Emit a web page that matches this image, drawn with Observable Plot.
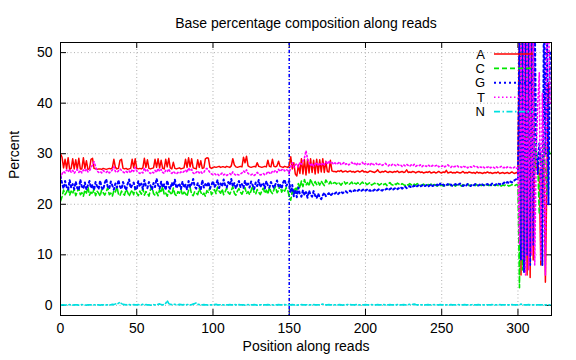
<!DOCTYPE html>
<html><head><meta charset="utf-8">
<script src="https://cdn.jsdelivr.net/npm/d3@7"></script>
<script src="https://cdn.jsdelivr.net/npm/@observablehq/plot@0.6"></script>
<style>body{margin:0;background:#fff}#chart svg{display:block}</style>
</head><body><div id="chart"></div>
<script>
const chartTitle = "Base percentage composition along reads";
const xLabel = "Position along reads";
const yLabel = "Percent";
const bases = ["A", "C", "G", "T", "N"];
const baseColors = ["#ff0000", "#00e600", "#0000ff", "#ff00ff", "#00e0e0"];
const baseDash = [null, "5,3", "2,3", "1.5,2.5", "6,2.5,1.5,2.5"];
const xTicks = [0, 50, 100, 150, 200, 250, 300];
const yTicks = [0, 10, 20, 30, 40, 50];
const markerPositions = [150];

const valuesA = [
30.0,29.3,27.2,28.9,27.0,29.2,26.9,27.1,29.0,27.0,
28.8,26.9,29.1,27.0,27.0,29.2,27.1,28.6,26.9,27.0,
28.9,29.1,27.1,27.0,26.9,27.0,27.0,26.9,27.1,27.0,
26.9,27.0,27.1,27.0,27.2,28.9,27.3,27.0,27.1,28.7,
28.9,27.1,27.0,27.1,26.9,27.0,27.1,28.9,27.2,29.0,
27.1,27.0,27.1,27.0,27.2,29.1,27.3,28.8,27.1,27.0,
27.1,27.2,28.9,27.3,29.0,27.2,28.7,27.1,27.0,28.9,
27.4,29.1,27.2,27.0,28.3,27.1,27.0,27.1,27.2,27.0,
27.1,27.2,28.9,27.3,29.2,27.4,29.0,27.2,27.1,27.0,
28.8,27.3,28.6,27.1,27.2,29.0,29.2,29.1,27.3,27.1,
27.3,27.4,27.3,27.4,27.5,27.3,27.4,27.4,27.3,27.5,
27.4,27.3,27.6,29.0,27.8,27.4,27.3,27.4,27.5,27.4,
29.3,28.2,29.5,27.6,27.4,27.3,27.4,27.5,27.4,28.2,
27.5,27.4,27.3,27.4,27.5,27.4,28.7,27.5,27.4,28.9,
27.5,27.4,27.6,28.5,27.5,27.4,27.3,27.5,27.4,27.3,
27.6,29.4,27.0,28.2,26.0,25.6,27.8,26.1,29.0,26.0,
28.8,25.8,28.9,26.2,29.0,26.3,28.7,26.0,28.9,26.2,
28.8,26.4,29.0,26.3,28.5,26.5,26.4,28.7,26.6,26.5,
26.5,26.4,26.6,26.5,26.7,26.4,26.5,26.6,26.4,26.5,
26.6,26.4,26.5,26.3,26.5,26.6,26.4,26.5,26.7,26.4,
26.5,26.3,26.4,26.6,26.5,26.4,26.3,26.5,26.8,26.4,
26.3,26.5,26.4,26.6,26.4,26.3,26.5,26.4,26.3,26.5,
26.4,26.6,26.3,26.4,26.5,26.3,26.4,26.8,26.3,26.4,
26.3,26.5,26.4,26.2,26.4,26.5,26.3,26.4,26.2,26.3,
26.4,26.3,26.5,26.2,26.3,26.4,26.2,26.3,26.5,26.3,
26.2,26.4,26.3,26.7,26.2,26.3,26.4,26.2,26.3,26.2,
26.4,26.3,26.2,26.3,26.5,26.2,26.3,26.2,26.4,26.3,
26.2,26.3,26.1,26.4,26.2,26.3,26.2,26.1,26.3,26.2,
26.4,26.2,26.3,26.1,26.2,26.3,26.2,26.4,26.1,26.2,
26.3,26.1,26.2,26.3,26.1,26.2,26.4,26.2,26.1,26.3,
26.2,58,6,57,8,56,6,55,5.5,58,
9,30,27,28,26,8,27,28,4.6,26,
44,44];

const valuesC = [
20.6,21.5,22.8,21.9,22.4,23.3,21.8,22.6,22.1,23.0,
21.7,22.5,23.2,21.9,22.3,21.6,22.8,22.2,23.4,21.8,
22.4,22.0,23.1,21.7,22.6,22.2,21.6,22.9,22.3,21.8,
22.5,23.3,21.9,22.2,21.6,22.7,22.4,23.5,22.0,21.7,
22.6,22.1,21.8,23.0,22.4,21.6,22.3,22.8,21.9,23.4,
22.2,21.7,22.6,22.0,23.1,21.8,22.5,22.2,21.6,22.9,
23.5,22.1,21.8,22.4,21.7,22.9,22.3,23.6,21.9,22.2,
21.6,22.7,22.3,21.9,23.2,22.0,21.7,22.5,22.2,23.0,
21.8,22.4,22.1,21.6,22.8,23.3,22.0,21.7,22.5,22.2,
21.9,23.1,22.4,21.8,22.2,21.6,22.7,22.3,23.4,21.9,
22.4,22.9,22.1,23.4,22.6,22.2,23.0,21.9,22.5,23.2,
22.3,22.0,22.7,23.5,22.2,21.8,22.6,23.1,22.4,22.0,
22.8,23.3,22.1,22.5,21.9,22.7,23.6,22.3,22.0,22.9,
22.4,21.9,22.6,23.2,22.2,22.8,22.0,23.4,22.5,22.1,
22.9,23.5,22.3,22.7,23.8,22.4,23.0,22.6,23.3,22.8,
21.5,20.8,22.6,21.9,23.4,22.8,24.1,23.2,24.6,23.5,
24.9,23.8,24.3,23.6,25.0,24.2,23.7,24.5,23.9,24.4,
23.8,24.6,24.1,23.7,24.8,24.3,24.0,24.5,23.9,24.2,
24.3,24.0,24.4,24.1,23.8,24.2,24.5,24.0,24.3,23.9,
24.1,24.4,23.9,24.2,24.0,24.3,23.8,24.1,24.4,24.0,
24.2,23.9,24.1,24.3,23.8,24.0,24.2,23.9,24.1,23.8,
24.0,24.2,23.9,24.1,23.7,24.0,24.3,23.9,23.8,24.1,
23.9,24.2,24.0,23.8,24.1,23.9,23.7,24.0,23.8,24.1,
23.9,23.7,24.0,23.8,24.1,23.9,23.7,23.8,24.0,23.8,
23.7,23.9,23.8,24.0,23.7,23.9,23.8,23.6,23.9,23.7,
23.8,23.6,23.9,23.7,23.8,24.0,23.7,23.9,23.8,23.6,
23.9,23.7,23.8,23.6,23.9,23.7,23.8,24.0,23.7,23.8,
23.6,23.8,23.7,23.9,23.6,23.8,23.7,23.9,23.8,23.6,
23.8,23.7,23.9,23.6,23.8,23.7,23.9,23.7,23.8,23.6,
23.8,23.7,23.9,23.8,23.6,23.7,23.9,23.8,23.7,23.9,
23.8,3.5,56,7,58,9,55,11,57,13,
52,26,31,28,18,30,25,32,26,22,
31,30];

const valuesG = [
25.6,24.2,23.1,24.6,23.4,22.9,24.8,23.3,24.0,23.0,
24.5,23.2,22.8,24.9,23.5,23.1,24.3,22.9,23.8,24.6,
23.2,23.9,22.8,24.4,23.6,23.0,24.7,23.3,22.9,24.2,
25.0,23.4,23.1,24.5,23.7,22.9,24.1,23.3,24.8,23.5,
23.0,24.4,23.6,22.8,24.0,24.9,23.2,23.8,24.3,23.1,
22.9,24.6,23.5,24.1,23.0,24.8,23.6,23.2,24.4,23.7,
22.9,24.2,23.4,25.1,23.8,23.1,24.5,23.3,24.0,22.8,
24.7,23.5,23.0,24.3,23.6,24.9,23.2,23.7,24.1,23.0,
24.5,23.3,23.9,22.9,24.6,23.4,24.0,25.0,23.5,23.1,
24.2,23.6,22.9,24.8,23.3,24.0,23.5,24.4,23.1,23.8,
24.6,23.4,23.9,24.8,23.2,24.1,23.5,24.9,23.7,23.3,
24.4,23.8,25.0,23.5,24.2,23.1,23.9,24.6,23.4,24.0,
23.2,24.7,23.6,24.1,23.3,24.5,23.8,23.0,24.3,23.6,
24.8,23.4,23.9,24.2,23.1,24.6,23.7,23.3,24.4,23.8,
23.2,24.0,24.7,23.5,23.9,23.1,24.3,24.9,23.6,24.1,
24.6,22.3,23.8,21.6,22.9,21.4,23.3,22.0,21.5,22.8,
21.8,22.4,21.3,22.7,21.9,21.5,22.6,21.7,21.2,22.1,
21.4,21.0,21.8,22.3,21.6,21.9,22.2,21.7,22.0,22.3,
22.1,22.4,22.0,22.3,22.5,22.2,22.4,22.6,22.3,22.5,
22.7,22.4,22.6,22.8,22.5,22.7,22.9,22.6,22.8,23.0,
22.7,22.9,22.6,22.8,22.5,22.7,22.9,22.6,22.8,23.0,
22.8,22.7,23.0,22.9,23.1,22.8,23.0,23.2,22.9,23.1,
23.3,23.0,23.2,23.4,23.1,23.3,23.5,23.2,23.4,23.6,
23.3,23.5,23.7,23.4,23.6,23.8,23.5,23.7,23.9,23.6,
23.8,23.5,23.7,24.0,23.6,23.8,23.7,23.9,23.6,24.1,
23.7,23.9,23.6,23.8,24.0,23.7,23.9,23.6,23.8,24.0,
23.7,23.9,24.1,23.8,23.6,23.9,23.7,24.0,23.8,23.6,
23.9,23.7,24.0,23.8,23.7,23.9,24.1,23.8,23.7,23.9,
24.0,23.8,23.7,24.1,23.9,23.8,24.0,24.2,23.9,24.1,
24.0,24.3,24.1,24.4,24.2,24.5,24.3,24.6,24.8,25.0,
24.8,55,9,58,6.5,57,10,56,8,56,
12,58,30,26,32,28,8,58,30,58,
20,50];

const valuesT = [
25.2,26.0,26.5,26.2,26.8,26.4,26.9,26.3,26.7,26.1,
26.6,26.9,26.3,26.7,26.2,26.8,26.5,27.0,26.4,26.6,
27.2,27.8,28.4,27.5,26.6,26.3,26.5,26.2,26.7,26.4,
26.3,26.6,26.2,26.5,26.8,27.4,26.5,26.3,26.6,27.0,
26.7,26.4,26.2,26.5,26.3,26.6,26.2,26.9,26.5,27.3,
26.6,26.3,26.1,26.4,26.2,27.2,26.5,26.8,26.3,26.1,
26.4,26.2,26.7,26.3,27.1,26.5,26.9,26.3,26.1,26.7,
26.4,27.0,26.3,26.1,26.5,26.2,26.0,26.3,26.1,26.4,
26.2,26.5,26.8,26.3,27.2,26.6,26.9,26.2,26.0,26.3,
26.6,26.2,26.5,26.1,26.3,26.9,27.1,26.7,26.3,26.0,
25.9,26.1,25.8,26.0,25.7,25.9,26.2,25.8,26.0,25.7,
25.9,26.1,25.8,26.4,26.0,25.7,25.9,25.8,26.0,26.2,
26.6,26.3,26.8,26.1,25.9,25.8,26.0,25.7,25.9,26.3,
26.0,25.8,25.9,26.1,25.8,26.0,26.5,26.2,26.0,26.6,
26.4,26.7,26.3,26.9,26.5,26.8,27.0,26.6,26.9,26.7,
26.0,27.5,28.2,27.3,27.8,28.0,27.4,28.3,27.9,28.6,
29.2,30.6,29.0,28.2,27.6,28.1,27.5,27.9,28.3,27.6,
28.0,27.7,28.2,27.8,28.4,27.9,28.6,28.1,28.3,27.9,
28.2,27.9,28.1,28.4,27.8,28.0,28.3,27.9,28.1,27.8,
28.0,28.3,27.9,28.1,27.7,28.2,27.9,28.0,28.3,27.8,
28.1,27.8,28.0,27.7,28.2,27.9,27.8,28.1,27.7,27.9,
28.0,27.7,27.9,28.1,27.8,27.6,27.9,27.7,28.0,27.8,
27.6,27.9,27.7,27.8,27.5,27.8,27.6,27.9,27.7,27.5,
27.8,27.6,27.9,27.5,27.7,27.6,27.8,27.4,27.7,27.6,
27.5,27.8,27.6,27.4,27.7,27.5,27.6,27.8,27.4,27.6,
27.5,27.7,27.4,27.6,27.8,27.5,27.3,27.6,27.4,27.5,
27.7,27.4,27.5,27.3,27.6,27.4,27.5,27.2,27.5,27.4,
27.3,27.6,27.4,27.5,27.2,27.4,27.3,27.5,27.2,27.4,
27.3,27.5,27.2,27.4,27.3,27.1,27.4,27.2,27.3,27.5,
27.2,27.3,27.1,27.4,27.2,27.3,27.1,27.2,27.4,27.1,
27.2,12,58,9,56,6,57,7,58,10,
55,8,30,40,46,9,42,30,6,58,
58,40];

const valuesN = [
0,0.1,0.1,0.05,0.1,0.1,0.15,0.1,0.05,0.1,
0.1,0.1,0.05,0.1,0.15,0.1,0.1,0.05,0.1,0.1,
0.1,0.05,0.1,0.15,0.1,0.1,0.05,0.1,0.1,0.1,
0.1,0.1,0.15,0.1,0.2,0.15,0.3,0.25,0.4,0.65,
0.35,0.2,0.15,0.1,0.2,0.15,0.1,0.1,0.15,0.1,
0.1,0.15,0.1,0.1,0.2,0.1,0.15,0.1,0.1,0.05,
0.1,0.15,0.1,0.1,0.2,0.3,0.15,0.1,0.2,0.4,
0.95,0.35,0.2,0.15,0.25,0.2,0.15,0.1,0.2,0.15,
0.1,0.15,0.1,0.15,0.2,0.1,0.15,0.25,0.35,0.5,
0.25,0.15,0.1,0.1,0.15,0.1,0.1,0.05,0.1,0.1,
0.1,0.15,0.2,0.1,0.1,0.15,0.1,0.1,0.05,0.1,
0.1,0.15,0.1,0.1,0.2,0.1,0.1,0.15,0.1,0.1,
0.1,0.05,0.1,0.15,0.1,0.1,0.1,0.15,0.1,0.05,
0.1,0.1,0.15,0.1,0.1,0.1,0.15,0.1,0.1,0.1,
0.05,0.1,0.1,0.15,0.1,0.1,0.1,0.15,0.1,0.1,
0.1,0.1,0.15,0.1,0.1,0.05,0.1,0.1,0.15,0.1,
0.1,0.1,0.15,0.1,0.1,0.1,0.15,0.1,0.1,0.1,
0.15,0.2,0.25,0.15,0.1,0.1,0.15,0.1,0.1,0.15,
0.1,0.1,0.1,0.15,0.1,0.05,0.1,0.1,0.15,0.2,
0.15,0.1,0.1,0.1,0.15,0.1,0.1,0.05,0.1,0.1,
0.15,0.1,0.1,0.1,0.15,0.1,0.1,0.1,0.15,0.1,
0.1,0.1,0.15,0.1,0.1,0.1,0.15,0.1,0.1,0.1,
0.1,0.15,0.1,0.1,0.1,0.15,0.1,0.1,0.15,0.2,
0.15,0.2,0.25,0.15,0.1,0.1,0.15,0.1,0.1,0.1,
0.1,0.15,0.1,0.1,0.1,0.15,0.1,0.1,0.1,0.15,
0.1,0.1,0.15,0.1,0.1,0.1,0.15,0.1,0.1,0.1,
0.1,0.15,0.1,0.1,0.1,0.15,0.1,0.1,0.1,0.1,
0.15,0.1,0.1,0.1,0.15,0.1,0.1,0.1,0.1,0.15,
0.1,0.1,0.1,0.15,0.1,0.1,0.1,0.1,0.15,0.1,
0.1,0.1,0.15,0.1,0.1,0.1,0.15,0.1,0.1,0.1,
0.1,0.15,0.25,0.15,0.1,0.1,0.1,0.15,0.1,0.1,
0.1,0.1,0.1,0.1,0.1,0.1,0.1,0.1,0.1,0.1,
0.1,0.1];

const seriesValues = [valuesA, valuesC, valuesG, valuesT, valuesN];
const positions = d3.range(valuesA.length);
seriesValues.forEach((s, i) => { if (s.length !== positions.length) throw new Error("length mismatch " + bases[i] + " " + s.length + " vs " + positions.length); });

const rows = [];
bases.forEach((b, i) => seriesValues[i].forEach((v, j) => rows.push({base: b, pos: positions[j], value: v})));

const W = 576, H = 360, mL = 60, mR = 25, mT = 42, mB = 45;
const frameW = W - mL - mR, frameH = H - mT - mB;
const tickLen = 6;
const font = "'Liberation Sans', Arial, Helvetica, sans-serif";
const fs = 14;
const keyFs = 13;

const lineMarks = bases.map((b, i) => Plot.line(rows.filter(r => r.base === b), {
  x: "pos", y: "value", stroke: baseColors[i], strokeWidth: i === 0 ? 1.5 : (i === 2 ? 2 : 1.6),
  strokeDasharray: baseDash[i], clip: true
}));

const chart = Plot.plot({
  width: W, height: H,
  marginLeft: mL, marginRight: mR, marginTop: mT, marginBottom: mB,
  style: {fontFamily: font, fontSize: fs + "px", background: "#fff", color: "#000"},
  x: {domain: [0, 322], label: null},
  y: {domain: [-2, 52], label: null},
  marks: [
    Plot.gridX(xTicks, {stroke: "#b0b0b0", strokeOpacity: 1, strokeDasharray: "1,2.5"}),
    Plot.gridY(yTicks, {stroke: "#b0b0b0", strokeOpacity: 1, strokeDasharray: "1,2.5"}),
    Plot.tickX(xTicks, {x: d => d, insetTop: frameH - tickLen, stroke: "#000"}),
    Plot.tickX(xTicks, {x: d => d, insetBottom: frameH - tickLen, stroke: "#000"}),
    Plot.tickY(yTicks, {y: d => d, insetRight: frameW - tickLen, stroke: "#000"}),
    Plot.tickY(yTicks, {y: d => d, insetLeft: frameW - tickLen, stroke: "#000"}),
    Plot.axisX({ticks: xTicks, tickSize: 0, tickPadding: 8, fontSize: fs, label: null}),
    Plot.axisY({ticks: yTicks, tickSize: 0, tickPadding: 8, fontSize: fs, label: null}),
    Plot.ruleX(markerPositions, {stroke: "#0000ff", strokeWidth: 1.5, strokeDasharray: "3,2,1,2"}),
    ...lineMarks,
    Plot.frame({stroke: "#000", strokeWidth: 1}),
    Plot.text([chartTitle], {frameAnchor: "top", dy: -24, fontSize: fs}),
    Plot.text([xLabel], {frameAnchor: "bottom", dy: 35, fontSize: fs}),
    Plot.text([yLabel], {frameAnchor: "left", dx: -46, rotate: -90, fontSize: fs})
  ]
});
document.getElementById("chart").appendChild(chart);

// legend (key) in the top-right corner, as in the original
const svg = d3.select(chart);
const key = svg.append("g").attr("font-family", font).attr("font-size", keyFs);
bases.forEach((b, i) => {
  const y = 54 + i * 14.4;
  key.append("text").attr("x", 485).attr("y", y).attr("dy", "0.35em")
    .attr("text-anchor", "end").attr("fill", "#000").text(b);
  key.append("line").attr("x1", 494).attr("x2", 533).attr("y1", y).attr("y2", y)
    .attr("stroke", baseColors[i]).attr("stroke-width", i === 2 ? 2 : 1.6)
    .attr("stroke-dasharray", baseDash[i]);
});
</script>
</body></html>
